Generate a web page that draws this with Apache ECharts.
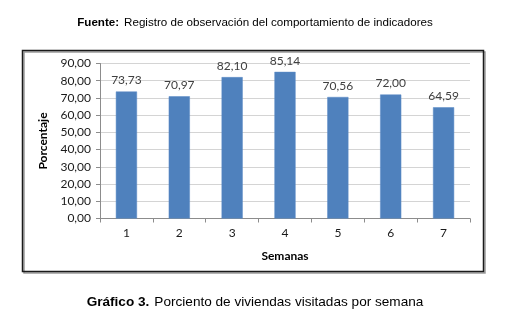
<!DOCTYPE html>
<html>
<head>
<meta charset="utf-8">
<script src="https://cdn.jsdelivr.net/npm/echarts@6/dist/echarts.min.js"></script>
<style>
  html, body { margin: 0; padding: 0; background: #fff; }
  #chart { width: 510px; height: 327px; }
</style>
</head>
<body>
<div id="chart"></div>
<script>
// Porcentaje de viviendas visitadas por semana
const semanas = ['1', '2', '3', '4', '5', '6', '7'];
const porcentaje = [73.73, 70.97, 82.10, 85.14, 70.56, 72.00, 64.59];
const yMin = 0;
const yMax = 90;
const yStep = 10;

const fmt = v => Number(v).toFixed(2).replace('.', ',');

const chart = echarts.init(document.getElementById('chart'), null, { renderer: 'canvas' });

chart.setOption({
  backgroundColor: '#ffffff',
  animation: false,
  title: [
    {
      text: '{b|Fuente:} {n|Registro de observación del comportamiento de indicadores}',
      left: 'center',
      top: 9,
      textStyle: {
        fontWeight: 'normal',
        rich: {
          b: { fontFamily: 'Liberation Sans', fontSize: 11.6, fontWeight: 'bold', color: '#000' },
          n: { fontFamily: 'Liberation Sans', fontSize: 11.6, fontWeight: 'normal', color: '#000' }
        }
      }
    },
    {
      text: '{b|Gráfico 3.} {n|Porciento de viviendas visitadas por semana}',
      left: 'center',
      top: 288,
      textStyle: {
        fontWeight: 'normal',
        rich: {
          b: { fontFamily: 'Liberation Sans', fontSize: 13.6, fontWeight: 'bold', color: '#000' },
          n: { fontFamily: 'Liberation Sans', fontSize: 13.6, fontWeight: 'normal', color: '#000' }
        }
      }
    }
  ],
  graphic: [
    {
      type: 'rect',
      shape: { x: 24, y: 52, width: 461, height: 221 },
      style: { fill: 'none', stroke: '#9a9a9a', lineWidth: 1.5 },
      silent: true
    },
    {
      type: 'rect',
      shape: { x: 22.5, y: 50.5, width: 461, height: 221 },
      style: { fill: 'none', stroke: '#1a1a1a', lineWidth: 1.5 },
      silent: true
    }
  ],
  grid: {
    left: 100,
    right: 40,
    top: 63.5,
    bottom: 108.5,
    containLabel: false
  },
  xAxis: {
    type: 'category',
    data: semanas,
    name: 'Semanas',
    nameLocation: 'middle',
    nameGap: 32,
    nameTextStyle: { fontFamily: 'Lato', fontSize: 12, fontWeight: 'bold', color: '#000' },
    axisLine: { lineStyle: { color: '#8c8c8c', width: 1 } },
    axisTick: { show: true, alignWithLabel: false, length: 4, lineStyle: { color: '#8c8c8c' } },
    axisLabel: { fontFamily: 'Lato', fontSize: 12, color: '#1a1a1a', margin: 9 },
    splitLine: { show: false }
  },
  yAxis: {
    type: 'value',
    min: yMin,
    max: yMax,
    interval: yStep,
    name: 'Porcentaje',
    nameLocation: 'middle',
    nameGap: 46,
    nameRotate: 90,
    nameTextStyle: { fontFamily: 'Lato', fontSize: 12, fontWeight: 'bold', color: '#000' },
    axisLine: { show: true, lineStyle: { color: '#8c8c8c', width: 1 } },
    axisTick: { show: true, length: 4, lineStyle: { color: '#8c8c8c' } },
    axisLabel: {
      fontFamily: 'Lato',
      fontSize: 12,
      color: '#1a1a1a',
      margin: 9,
      formatter: v => fmt(v)
    },
    splitLine: { show: true, lineStyle: { color: '#d4d4d4', width: 1 } }
  },
  series: [
    {
      type: 'bar',
      data: porcentaje,
      barWidth: '40%',
      itemStyle: { color: '#4f81bd', borderColor: '#5a8ac6', borderWidth: 0.5 },
      label: {
        show: true,
        position: 'top',
        distance: 5,
        fontFamily: 'Lato',
        fontSize: 12,
        color: '#404040',
        formatter: p => fmt(p.value)
      }
    }
  ]
});
</script>
</body>
</html>
